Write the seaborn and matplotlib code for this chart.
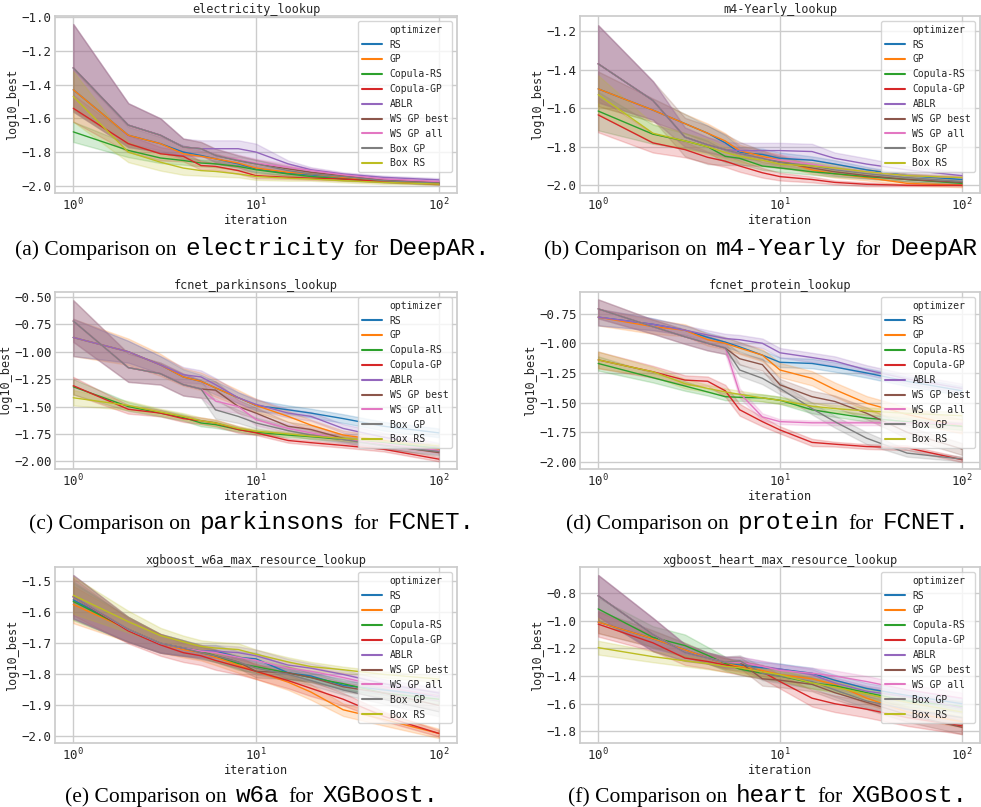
import numpy as np
import pandas as pd
import matplotlib
matplotlib.use('Agg')
import matplotlib.pyplot as plt
from matplotlib.lines import Line2D
import seaborn as sns

OPTIMIZERS = ["RS", "GP", "Copula-RS", "Copula-GP", "ABLR",
              "WS GP best", "WS GP all", "Box GP", "Box RS"]
ITERS = [1, 2, 3, 4, 5, 6, 8, 10, 15, 20, 30, 50, 100]

# electricity (DeepAR): mean curve per optimizer, and half-width of the band
ELEC_MEAN = [
    [-1.43, -1.70, -1.75, -1.80, -1.82, -1.84, -1.87, -1.90, -1.925, -1.935, -1.95, -1.965, -1.985],
    [-1.43, -1.70, -1.75, -1.81, -1.825, -1.84, -1.865, -1.895, -1.92, -1.93, -1.95, -1.97, -1.985],
    [-1.68, -1.79, -1.835, -1.85, -1.865, -1.87, -1.885, -1.905, -1.93, -1.945, -1.96, -1.975, -1.985],
    [-1.54, -1.75, -1.81, -1.825, -1.88, -1.885, -1.91, -1.94, -1.95, -1.955, -1.96, -1.975, -1.99],
    [-1.30, -1.64, -1.70, -1.77, -1.78, -1.78, -1.78, -1.80, -1.87, -1.905, -1.93, -1.95, -1.965],
    [-1.30, -1.64, -1.70, -1.77, -1.78, -1.82, -1.85, -1.87, -1.90, -1.92, -1.94, -1.965, -1.98],
    [-1.30, -1.64, -1.70, -1.77, -1.78, -1.82, -1.845, -1.865, -1.89, -1.91, -1.935, -1.96, -1.975],
    [-1.30, -1.64, -1.70, -1.77, -1.78, -1.82, -1.85, -1.87, -1.91, -1.93, -1.945, -1.97, -1.985],
    [-1.47, -1.80, -1.86, -1.895, -1.91, -1.915, -1.93, -1.945, -1.955, -1.96, -1.97, -1.98, -1.99],
]
ELEC_BAND = [
    [0.12, 0.05, 0.04, 0.04, 0.03, 0.03, 0.02, 0.02, 0.015, 0.01, 0.01, 0.01, 0.005],
    [0.12, 0.06, 0.05, 0.04, 0.03, 0.03, 0.025, 0.02, 0.015, 0.01, 0.01, 0.01, 0.005],
    [0.06, 0.04, 0.03, 0.025, 0.02, 0.02, 0.02, 0.015, 0.01, 0.01, 0.01, 0.005, 0.005],
    [0.08, 0.05, 0.04, 0.03, 0.025, 0.02, 0.02, 0.015, 0.01, 0.01, 0.01, 0.005, 0.005],
    [0.26, 0.13, 0.10, 0.05, 0.05, 0.05, 0.05, 0.05, 0.02, 0.015, 0.01, 0.01, 0.01],
    [0.26, 0.13, 0.10, 0.05, 0.04, 0.04, 0.03, 0.025, 0.02, 0.015, 0.01, 0.01, 0.01],
    [0.26, 0.13, 0.10, 0.05, 0.04, 0.04, 0.03, 0.025, 0.02, 0.015, 0.01, 0.01, 0.01],
    [0.26, 0.13, 0.10, 0.05, 0.04, 0.04, 0.03, 0.025, 0.02, 0.015, 0.01, 0.01, 0.01],
    [0.15, 0.06, 0.05, 0.04, 0.03, 0.03, 0.02, 0.02, 0.015, 0.01, 0.01, 0.01, 0.005],
]

# m4-Yearly (DeepAR)
M4_MEAN = [
    [-1.50, -1.61, -1.68, -1.73, -1.78, -1.83, -1.84, -1.86, -1.87, -1.89, -1.92, -1.95, -1.97],
    [-1.50, -1.61, -1.68, -1.73, -1.77, -1.82, -1.85, -1.87, -1.92, -1.94, -1.96, -1.99, -2.00],
    [-1.615, -1.735, -1.77, -1.80, -1.85, -1.86, -1.90, -1.91, -1.93, -1.94, -1.955, -1.97, -1.99],
    [-1.635, -1.78, -1.815, -1.855, -1.875, -1.90, -1.935, -1.955, -1.97, -1.985, -1.995, -2.00, -2.00],
    [-1.37, -1.56, -1.75, -1.79, -1.815, -1.82, -1.82, -1.82, -1.825, -1.86, -1.89, -1.92, -1.95],
    [-1.37, -1.56, -1.75, -1.79, -1.815, -1.835, -1.86, -1.88, -1.91, -1.93, -1.95, -1.97, -1.985],
    [-1.37, -1.56, -1.75, -1.79, -1.815, -1.835, -1.86, -1.87, -1.89, -1.91, -1.93, -1.95, -1.96],
    [-1.37, -1.56, -1.75, -1.79, -1.815, -1.835, -1.86, -1.88, -1.90, -1.92, -1.94, -1.96, -1.98],
    [-1.53, -1.73, -1.77, -1.80, -1.83, -1.85, -1.87, -1.89, -1.90, -1.91, -1.93, -1.95, -1.96],
]
M4_BAND = [
    [0.09, 0.06, 0.05, 0.04, 0.04, 0.03, 0.03, 0.03, 0.02, 0.02, 0.015, 0.01, 0.01],
    [0.09, 0.06, 0.05, 0.05, 0.04, 0.03, 0.03, 0.03, 0.02, 0.02, 0.015, 0.01, 0.01],
    [0.10, 0.05, 0.04, 0.03, 0.03, 0.03, 0.02, 0.02, 0.015, 0.015, 0.01, 0.01, 0.01],
    [0.09, 0.05, 0.04, 0.03, 0.03, 0.03, 0.025, 0.02, 0.015, 0.01, 0.01, 0.005, 0.005],
    [0.20, 0.10, 0.05, 0.04, 0.04, 0.04, 0.04, 0.04, 0.04, 0.03, 0.03, 0.02, 0.02],
    [0.20, 0.10, 0.10, 0.10, 0.08, 0.06, 0.04, 0.03, 0.02, 0.02, 0.015, 0.01, 0.01],
    [0.20, 0.10, 0.05, 0.04, 0.03, 0.03, 0.03, 0.03, 0.02, 0.02, 0.015, 0.01, 0.01],
    [0.20, 0.10, 0.05, 0.04, 0.03, 0.03, 0.03, 0.03, 0.02, 0.02, 0.015, 0.01, 0.01],
    [0.10, 0.05, 0.04, 0.04, 0.03, 0.03, 0.03, 0.02, 0.02, 0.02, 0.015, 0.01, 0.01],
]

# parkinsons (FCNET)
PARK_MEAN = [
    [-0.87, -1.00, -1.12, -1.23, -1.27, -1.33, -1.42, -1.49, -1.53, -1.56, -1.61, -1.68, -1.74],
    [-0.87, -1.00, -1.12, -1.23, -1.27, -1.33, -1.42, -1.49, -1.59, -1.67, -1.76, -1.81, -1.89],
    [-1.32, -1.50, -1.56, -1.60, -1.65, -1.665, -1.71, -1.735, -1.76, -1.775, -1.80, -1.83, -1.88],
    [-1.31, -1.525, -1.56, -1.61, -1.63, -1.65, -1.71, -1.74, -1.81, -1.83, -1.855, -1.89, -1.98],
    [-0.87, -1.00, -1.12, -1.21, -1.23, -1.30, -1.42, -1.48, -1.56, -1.59, -1.70, -1.78, -1.87],
    [-0.72, -1.145, -1.20, -1.30, -1.34, -1.35, -1.50, -1.56, -1.68, -1.71, -1.79, -1.85, -1.92],
    [-0.72, -1.145, -1.20, -1.30, -1.34, -1.45, -1.50, -1.62, -1.70, -1.74, -1.80, -1.84, -1.90],
    [-0.72, -1.145, -1.20, -1.30, -1.34, -1.53, -1.59, -1.65, -1.72, -1.76, -1.80, -1.86, -1.91],
    [-1.42, -1.49, -1.55, -1.59, -1.63, -1.65, -1.70, -1.725, -1.75, -1.77, -1.79, -1.82, -1.86],
]
PARK_BAND = [
    [0.17, 0.10, 0.08, 0.07, 0.06, 0.06, 0.05, 0.05, 0.04, 0.04, 0.04, 0.04, 0.04],
    [0.17, 0.12, 0.10, 0.08, 0.08, 0.08, 0.07, 0.06, 0.05, 0.05, 0.04, 0.04, 0.03],
    [0.07, 0.04, 0.03, 0.03, 0.03, 0.03, 0.02, 0.02, 0.02, 0.02, 0.02, 0.02, 0.02],
    [0.08, 0.04, 0.03, 0.03, 0.03, 0.03, 0.03, 0.02, 0.02, 0.02, 0.02, 0.02, 0.02],
    [0.17, 0.10, 0.08, 0.07, 0.06, 0.06, 0.05, 0.05, 0.04, 0.04, 0.04, 0.04, 0.04],
    [0.19, 0.13, 0.10, 0.10, 0.08, 0.08, 0.06, 0.05, 0.04, 0.04, 0.03, 0.03, 0.03],
    [0.19, 0.13, 0.10, 0.10, 0.08, 0.08, 0.06, 0.05, 0.04, 0.04, 0.03, 0.03, 0.03],
    [0.19, 0.13, 0.10, 0.10, 0.08, 0.08, 0.06, 0.05, 0.04, 0.04, 0.03, 0.03, 0.03],
    [0.07, 0.04, 0.03, 0.03, 0.03, 0.03, 0.02, 0.02, 0.02, 0.02, 0.02, 0.02, 0.02],
]

# protein (FCNET)
PROT_MEAN = [
    [-0.78, -0.84, -0.89, -0.95, -0.99, -1.03, -1.10, -1.16, -1.17, -1.20, -1.25, -1.32, -1.40],
    [-0.78, -0.86, -0.89, -0.97, -1.00, -1.04, -1.10, -1.225, -1.295, -1.39, -1.505, -1.60, -1.70],
    [-1.17, -1.29, -1.36, -1.41, -1.45, -1.455, -1.46, -1.48, -1.56, -1.59, -1.63, -1.66, -1.70],
    [-1.14, -1.24, -1.31, -1.32, -1.40, -1.56, -1.66, -1.73, -1.835, -1.85, -1.87, -1.88, -1.98],
    [-0.78, -0.84, -0.89, -0.93, -0.96, -0.97, -1.00, -1.08, -1.12, -1.15, -1.225, -1.30, -1.38],
    [-0.71, -0.86, -0.945, -1.00, -1.04, -1.13, -1.18, -1.35, -1.45, -1.49, -1.59, -1.75, -1.89],
    [-0.71, -0.86, -0.945, -1.00, -1.04, -1.42, -1.62, -1.66, -1.67, -1.67, -1.67, -1.67, -1.68],
    [-0.71, -0.86, -0.945, -1.00, -1.04, -1.225, -1.295, -1.38, -1.55, -1.66, -1.80, -1.925, -1.975],
    [-1.14, -1.24, -1.34, -1.38, -1.41, -1.43, -1.46, -1.48, -1.53, -1.55, -1.57, -1.59, -1.61],
]
PROT_BAND = [
    [0.07, 0.05, 0.04, 0.04, 0.04, 0.04, 0.04, 0.04, 0.04, 0.04, 0.04, 0.04, 0.04],
    [0.07, 0.06, 0.05, 0.05, 0.05, 0.05, 0.05, 0.06, 0.06, 0.06, 0.06, 0.06, 0.06],
    [0.06, 0.04, 0.04, 0.03, 0.03, 0.03, 0.03, 0.03, 0.03, 0.03, 0.03, 0.03, 0.03],
    [0.07, 0.05, 0.04, 0.04, 0.05, 0.05, 0.04, 0.03, 0.03, 0.02, 0.02, 0.02, 0.02],
    [0.07, 0.05, 0.04, 0.04, 0.04, 0.04, 0.04, 0.04, 0.04, 0.04, 0.04, 0.04, 0.04],
    [0.08, 0.06, 0.06, 0.06, 0.05, 0.05, 0.05, 0.05, 0.05, 0.05, 0.05, 0.05, 0.05],
    [0.08, 0.06, 0.06, 0.06, 0.05, 0.04, 0.03, 0.02, 0.02, 0.02, 0.02, 0.02, 0.02],
    [0.08, 0.06, 0.06, 0.06, 0.05, 0.05, 0.05, 0.05, 0.05, 0.05, 0.05, 0.03, 0.02],
    [0.07, 0.04, 0.04, 0.03, 0.03, 0.03, 0.03, 0.03, 0.03, 0.03, 0.03, 0.03, 0.03],
]

# w6a (XGBoost)
W6A_MEAN = [
    [-1.56, -1.655, -1.70, -1.715, -1.725, -1.725, -1.745, -1.75, -1.795, -1.805, -1.835, -1.85, -1.87],
    [-1.575, -1.655, -1.70, -1.72, -1.73, -1.745, -1.77, -1.79, -1.825, -1.857, -1.914, -1.945, -1.99],
    [-1.565, -1.655, -1.70, -1.715, -1.725, -1.74, -1.765, -1.775, -1.795, -1.81, -1.83, -1.86, -1.88],
    [-1.55, -1.66, -1.705, -1.73, -1.74, -1.755, -1.775, -1.79, -1.82, -1.845, -1.88, -1.935, -1.99],
    [-1.55, -1.655, -1.70, -1.715, -1.725, -1.725, -1.73, -1.74, -1.77, -1.78, -1.80, -1.83, -1.86],
    [-1.55, -1.655, -1.70, -1.715, -1.73, -1.74, -1.76, -1.79, -1.795, -1.81, -1.84, -1.86, -1.90],
    [-1.55, -1.655, -1.70, -1.715, -1.725, -1.73, -1.745, -1.755, -1.78, -1.79, -1.81, -1.84, -1.87],
    [-1.55, -1.655, -1.70, -1.715, -1.73, -1.74, -1.76, -1.78, -1.80, -1.82, -1.85, -1.88, -1.92],
    [-1.545, -1.63, -1.675, -1.695, -1.71, -1.715, -1.72, -1.735, -1.76, -1.775, -1.785, -1.80, -1.815],
]
W6A_BAND = [
    [0.06, 0.04, 0.03, 0.025, 0.02, 0.02, 0.02, 0.02, 0.02, 0.015, 0.015, 0.015, 0.015],
    [0.06, 0.04, 0.03, 0.025, 0.025, 0.025, 0.025, 0.025, 0.025, 0.025, 0.02, 0.02, 0.015],
    [0.06, 0.04, 0.03, 0.025, 0.02, 0.02, 0.02, 0.02, 0.02, 0.015, 0.015, 0.015, 0.015],
    [0.06, 0.04, 0.035, 0.03, 0.03, 0.03, 0.025, 0.025, 0.025, 0.025, 0.02, 0.015, 0.01],
    [0.07, 0.04, 0.03, 0.025, 0.02, 0.02, 0.02, 0.02, 0.02, 0.015, 0.015, 0.015, 0.015],
    [0.07, 0.04, 0.03, 0.025, 0.02, 0.02, 0.02, 0.02, 0.02, 0.015, 0.015, 0.015, 0.015],
    [0.07, 0.04, 0.03, 0.025, 0.02, 0.02, 0.02, 0.02, 0.02, 0.015, 0.015, 0.015, 0.015],
    [0.07, 0.04, 0.03, 0.025, 0.02, 0.02, 0.02, 0.02, 0.02, 0.015, 0.015, 0.015, 0.015],
    [0.06, 0.035, 0.025, 0.02, 0.02, 0.02, 0.02, 0.015, 0.015, 0.015, 0.01, 0.01, 0.01],
]

# heart (XGBoost)
HEART_MEAN = [
    [-1.01, -1.13, -1.21, -1.27, -1.31, -1.32, -1.34, -1.35, -1.38, -1.43, -1.49, -1.54, -1.60],
    [-1.01, -1.13, -1.21, -1.27, -1.31, -1.33, -1.36, -1.39, -1.42, -1.46, -1.56, -1.66, -1.73],
    [-0.915, -1.12, -1.18, -1.25, -1.31, -1.35, -1.38, -1.40, -1.45, -1.47, -1.52, -1.58, -1.62],
    [-1.025, -1.16, -1.27, -1.295, -1.32, -1.34, -1.37, -1.44, -1.56, -1.60, -1.64, -1.70, -1.76],
    [-0.82, -1.10, -1.23, -1.27, -1.30, -1.30, -1.33, -1.35, -1.39, -1.45, -1.51, -1.55, -1.63],
    [-0.82, -1.10, -1.23, -1.27, -1.30, -1.30, -1.42, -1.43, -1.46, -1.52, -1.59, -1.68, -1.77],
    [-0.82, -1.10, -1.23, -1.27, -1.30, -1.30, -1.33, -1.36, -1.38, -1.40, -1.44, -1.50, -1.56],
    [-0.82, -1.10, -1.23, -1.27, -1.30, -1.29, -1.38, -1.40, -1.44, -1.50, -1.58, -1.64, -1.70],
    [-1.195, -1.26, -1.29, -1.31, -1.33, -1.34, -1.37, -1.39, -1.45, -1.48, -1.53, -1.59, -1.66],
]
HEART_BAND = [
    [0.08, 0.06, 0.05, 0.04, 0.04, 0.04, 0.04, 0.04, 0.04, 0.04, 0.04, 0.04, 0.04],
    [0.08, 0.06, 0.05, 0.04, 0.04, 0.04, 0.04, 0.04, 0.04, 0.04, 0.04, 0.04, 0.04],
    [0.08, 0.08, 0.08, 0.06, 0.05, 0.04, 0.04, 0.04, 0.04, 0.04, 0.04, 0.04, 0.04],
    [0.09, 0.06, 0.05, 0.05, 0.05, 0.05, 0.05, 0.05, 0.06, 0.06, 0.06, 0.06, 0.06],
    [0.15, 0.12, 0.06, 0.04, 0.04, 0.04, 0.04, 0.04, 0.04, 0.04, 0.04, 0.04, 0.04],
    [0.15, 0.12, 0.06, 0.04, 0.04, 0.04, 0.05, 0.05, 0.05, 0.05, 0.05, 0.05, 0.05],
    [0.15, 0.12, 0.06, 0.04, 0.04, 0.04, 0.04, 0.04, 0.04, 0.04, 0.04, 0.04, 0.04],
    [0.15, 0.12, 0.06, 0.04, 0.04, 0.04, 0.05, 0.05, 0.05, 0.05, 0.05, 0.05, 0.05],
    [0.05, 0.04, 0.04, 0.04, 0.04, 0.04, 0.04, 0.04, 0.04, 0.04, 0.04, 0.04, 0.04],
]

TITLES = ["electricity_lookup", "m4-Yearly_lookup", "fcnet_parkinsons_lookup",
          "fcnet_protein_lookup", "xgboost_w6a_max_resource_lookup",
          "xgboost_heart_max_resource_lookup"]
YLIMS = [(-2.043, -0.992), (-2.040, -1.122), (-2.070, -0.455),
         (-2.059, -0.568), (-2.021, -1.454), (-1.884, -0.612)]
YTICKS = [np.arange(-2.0, -0.99, 0.2), np.arange(-2.0, -1.19, 0.2),
          np.arange(-2.0, -0.49, 0.25), np.arange(-2.0, -0.74, 0.25),
          np.arange(-2.0, -1.49, 0.1), np.arange(-1.8, -0.79, 0.2)]
CAPTIONS = [
    [("(a) Comparison on", 0), ("electricity", 1), ("for", 0), ("DeepAR.", 1)],
    [("(b) Comparison on", 0), ("m4-Yearly", 1), ("for", 0), ("DeepAR.", 1)],
    [("(c) Comparison on", 0), ("parkinsons", 1), ("for", 0), ("FCNET.", 1)],
    [("(d) Comparison on", 0), ("protein", 1), ("for", 0), ("FCNET.", 1)],
    [("(e) Comparison on", 0), ("w6a", 1), ("for", 0), ("XGBoost.", 1)],
    [("(f) Comparison on", 0), ("heart", 1), ("for", 0), ("XGBoost.", 1)],
]

sns.set_theme(style="whitegrid")
plt.rcParams['font.family'] = ['DejaVu Sans Mono']
plt.rcParams['mathtext.fontset'] = 'custom'
plt.rcParams['mathtext.rm'] = 'DejaVu Sans Mono'
plt.rcParams['mathtext.it'] = 'DejaVu Sans Mono'

palette = sns.color_palette("tab10", len(OPTIMIZERS))

W, H = 981, 807
fig = plt.figure(figsize=(W / 100, H / 100), dpi=100)

# axes boxes in pixels: left, top, right, bottom
cols = [(55, 457), (580, 980)]
rows = [(16, 193), (292, 469), (567, 743)]
cap_base = [255, 529, 802]
cap_center = [252, 768]


def long_frame(mean, band):
    recs = []
    for name, m_row, b_row in zip(OPTIMIZERS, mean, band):
        for it, m, b in zip(ITERS, m_row, b_row):
            for v in (m - b, m, m + b):
                recs.append((name, it, v))
    return pd.DataFrame(recs, columns=['optimizer', 'iteration', 'log10_best'])


data = [(ELEC_MEAN, ELEC_BAND), (M4_MEAN, M4_BAND), (PARK_MEAN, PARK_BAND),
        (PROT_MEAN, PROT_BAND), (W6A_MEAN, W6A_BAND), (HEART_MEAN, HEART_BAND)]

legend_handles = [Line2D([], [], color='none')] + \
    [Line2D([], [], color=c, lw=1.5) for c in palette]
legend_labels = ['optimizer'] + OPTIMIZERS

for i, (mean, band) in enumerate(data):
    r, c = divmod(i, 2)
    x0, x1 = cols[c]
    y0, y1 = rows[r]
    ax = fig.add_axes([x0 / W, 1 - y1 / H, (x1 - x0) / W, (y1 - y0) / H])
    ax.set_xscale('log')
    df = long_frame(mean, band)
    sns.lineplot(data=df, x='iteration', y='log10_best', hue='optimizer',
                 hue_order=OPTIMIZERS, palette=palette, estimator='median',
                 errorbar=('pi', 100), linewidth=1.0, legend=False, ax=ax)
    ax.set_xlim(10 ** -0.1, 10 ** 2.1)
    ax.set_xticks([1, 10, 100])
    ax.set_ylim(*YLIMS[i])
    ax.set_yticks(YTICKS[i])
    ax.minorticks_off()
    ax.tick_params(labelsize=9, pad=2.5, length=0)
    ax.set_title(TITLES[i], fontsize=8.6, pad=2.5)
    ax.set_xlabel('iteration', fontsize=8.6, labelpad=0.5)
    ax.set_ylabel('log10_best', fontsize=8.6, labelpad=1.5)
    ax.legend(legend_handles, legend_labels, loc='upper right', fontsize=7,
              framealpha=0.8, borderaxespad=0.5)

# captions: serif text mixed with typewriter words
renderer = fig.canvas.get_renderer()
gap = 9
for i, parts in enumerate(CAPTIONS):
    r, c = divmod(i, 2)
    ypos = 1 - cap_base[r] / H
    texts = []
    for s, mono in parts:
        if mono:
            t = fig.text(0, ypos, s, fontsize=17.5, family='Liberation Mono',
                         va='baseline', ha='left', color='black')
        else:
            t = fig.text(0, ypos, s, fontsize=15.5, family='Liberation Serif',
                         va='baseline', ha='left', color='black')
        texts.append(t)
    widths = [t.get_window_extent(renderer).width for t in texts]
    xpos = cap_center[c] - (sum(widths) + gap * (len(widths) - 1)) / 2
    for t, w in zip(texts, widths):
        t.set_x(xpos / W)
        xpos += w + gap

fig.savefig('out.png', dpi=100)
